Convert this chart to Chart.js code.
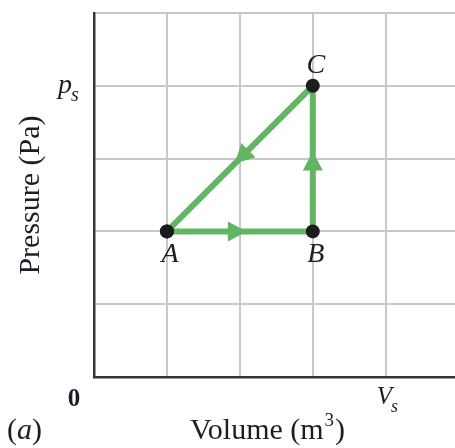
<!DOCTYPE html>
<html>
<head>
<meta charset="utf-8">
<script src="https://cdn.jsdelivr.net/npm/chart.js@4/dist/chart.umd.min.js"></script>
<style>
html, body { margin: 0; padding: 0; background: #ffffff; }
canvas { display: block; }
</style>
</head>
<body>
<canvas id="pvChart" width="455" height="448"></canvas>
<script>
// cycle A -> B -> C -> A
const stateNames = ['A', 'B', 'C', 'A'];
const volumeValues = [1, 3, 3, 1];
const pressureValues = [2, 2, 4, 2];

// tick labels: [main, subscript]
const volumeTickValues = [0, 4];
const volumeTickLabels = [['0', ''], ['V', 's']];
const pressureTickValues = [4];
const pressureTickLabels = [['p', 's']];

const xTitle = 'Volume (m';
const xTitleSup = '3';
const yTitle = 'Pressure (Pa)';
const panelLabel = 'a';

const lineColor = '#62b562';
const pointColor = '#1c1c1c';
const gridColor = '#c8c8c8';
const axisColor = '#363636';
const textColor = '#1f1c2a';
const serif = "'Liberation Serif', 'DejaVu Serif', serif";

const canvas = document.getElementById('pvChart');
const context = canvas.getContext('2d');

const points = volumeValues.map(function(v, i) {
    return { x: v, y: pressureValues[i] };
});

function keepIntegers(scale) {
    scale.ticks = scale.ticks.filter(t => Number.isInteger(t.value));
}

const arrowPlugin = {
    id: 'cycleArrows',
    afterDatasetsDraw(chart) {
        const ctx = chart.ctx;
        const x = chart.scales.x;
        const y = chart.scales.y;
        ctx.save();
        ctx.fillStyle = lineColor;
        for (let i = 0; i < volumeValues.length - 1; i++) {
            const x0 = x.getPixelForValue(volumeValues[i]);
            const y0 = y.getPixelForValue(pressureValues[i]);
            const x1 = x.getPixelForValue(volumeValues[i + 1]);
            const y1 = y.getPixelForValue(pressureValues[i + 1]);
            const angle = Math.atan2(y1 - y0, x1 - x0);
            ctx.save();
            ctx.translate((x0 + x1) / 2, (y0 + y1) / 2);
            ctx.rotate(angle);
            ctx.beginPath();
            ctx.moveTo(7, 0);
            ctx.lineTo(-12, -10);
            ctx.lineTo(-12, 10);
            ctx.closePath();
            ctx.fill();
            ctx.restore();
        }
        ctx.restore();
    }
};

function drawSub(ctx, main, sub, px, py, size, italic) {
    ctx.font = (italic ? 'italic ' : '') + size + 'px ' + serif;
    ctx.textAlign = 'left';
    ctx.fillText(main, px, py);
    const w = ctx.measureText(main).width;
    if (sub) {
        ctx.font = 'italic ' + Math.round(size * 0.7) + 'px ' + serif;
        ctx.fillText(sub, px + w - 1, py + size * 0.3);
    }
}

const textPlugin = {
    id: 'pvText',
    afterDraw(chart) {
        const ctx = chart.ctx;
        const x = chart.scales.x;
        const y = chart.scales.y;
        ctx.save();
        ctx.fillStyle = textColor;
        ctx.textBaseline = 'alphabetic';

        // state labels
        ctx.font = 'italic 28px ' + serif;
        ctx.textAlign = 'center';
        for (let i = 0; i < 3; i++) {
            const px = x.getPixelForValue(volumeValues[i]);
            const py = y.getPixelForValue(pressureValues[i]);
            const above = pressureValues[i] === Math.max(...pressureValues);
            ctx.fillText(stateNames[i], px + 3, above ? py - 13 : py + 31);
        }

        // x ticks
        volumeTickValues.forEach(function(v, i) {
            const lab = volumeTickLabels[i];
            const px = x.getPixelForValue(v);
            if (lab[1]) {
                drawSub(ctx, lab[0], lab[1], px - 9, y.bottom + 27, 25, true);
            } else {
                ctx.font = 'bold 25px ' + serif;
                ctx.textAlign = 'center';
                ctx.fillText(lab[0], px - 20, y.bottom + 29);
            }
        });

        // y ticks
        pressureTickValues.forEach(function(v, i) {
            const lab = pressureTickLabels[i];
            const py = y.getPixelForValue(v);
            drawSub(ctx, lab[0], lab[1], x.left - 36, py + 7, 28, true);
        });

        // x title with superscript
        ctx.font = '30px ' + serif;
        ctx.textAlign = 'left';
        const tx = 190;
        const ty = 439;
        ctx.fillText(xTitle, tx, ty);
        let w = ctx.measureText(xTitle).width;
        ctx.font = '19px ' + serif;
        ctx.fillText(xTitleSup, tx + w + 1, ty - 13);
        w += ctx.measureText(xTitleSup).width + 2;
        ctx.font = '30px ' + serif;
        ctx.fillText(')', tx + w, ty);

        // panel label (a)
        ctx.fillText('(', 7, ty);
        let pw = ctx.measureText('(').width;
        ctx.font = 'italic 30px ' + serif;
        ctx.fillText(panelLabel, 7 + pw, ty);
        pw += ctx.measureText(panelLabel).width;
        ctx.font = '30px ' + serif;
        ctx.fillText(')', 7 + pw, ty);

        // y title
        ctx.translate(39, 195);
        ctx.rotate(-Math.PI / 2);
        ctx.textAlign = 'center';
        ctx.fillText(yTitle, 0, 0);
        ctx.restore();
    }
};

const pvChart = new Chart(context, {
    type: 'scatter',
    data: {
        datasets: [{
            data: points,
            showLine: true,
            borderColor: lineColor,
            borderWidth: 6,
            tension: 0,
            pointRadius: 7,
            pointHoverRadius: 7,
            pointBackgroundColor: pointColor,
            pointBorderColor: pointColor,
            pointBorderWidth: 0
        }]
    },
    options: {
        responsive: false,
        animation: false,
        events: [],
        layout: {
            autoPadding: false,
            padding: { left: 94, top: 13, right: 0, bottom: 71 }
        },
        plugins: {
            legend: { display: false },
            tooltip: { enabled: false }
        },
        scales: {
            x: {
                type: 'linear',
                min: 0,
                max: 4.95,
                afterBuildTicks: keepIntegers,
                ticks: { display: false, stepSize: 1 },
                grid: { color: gridColor, lineWidth: 2, drawTicks: false },
                border: { color: axisColor, width: 2.5 }
            },
            y: {
                type: 'linear',
                min: 0,
                max: 5,
                afterBuildTicks: keepIntegers,
                ticks: { display: false, stepSize: 1 },
                grid: { color: gridColor, lineWidth: 2, drawTicks: false },
                border: { color: axisColor, width: 2.5 }
            }
        }
    },
    plugins: [arrowPlugin, textPlugin]
});
</script>
</body>
</html>
